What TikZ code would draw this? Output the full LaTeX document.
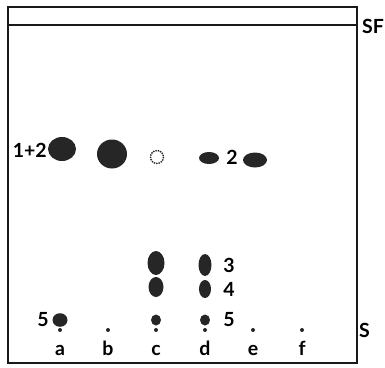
\documentclass[tikz,border=0pt]{standalone}
\usepackage{fontspec}
\setmainfont{Lato}
\usetikzlibrary{positioning}
\tikzset{
  plate/.style={draw=black!90, line width=2.8pt},
  front/.style={draw=black!90, line width=2.2pt},
  spot/.style={fill=black!85},
  origin/.style={fill=black!85},
  faint/.style={draw=black!85, densely dotted, line width=1.4pt},
  lbl/.style={font=\fontsize{19.5}{22}\selectfont\bfseries, inner sep=0pt},
}
\begin{document}
\begin{tikzpicture}[x=1pt,y=-1pt]
  \useasboundingbox (0,0) rectangle (385,367);
  % plate and solvent front
  \draw[plate] (8,7) rectangle (357,363);
  \draw[front] (8,25) -- (357,25);
  \node[lbl, anchor=west] (sf) at (362,26) {SF};
  \node[lbl, anchor=west] (start) at (359,330) {S};
  % lanes: start dots and letters
  \foreach \x/\nm in {60/a,108/b,156/c,205/d,253/e,302/f} {
    \fill[origin] (\x,330) circle (2);
    \node[lbl, anchor=base] (lane-\nm) at (\x,355) {\nm};
  }
  % upper row
  \fill[spot] (62,149) ellipse (14 and 12);
  \node[lbl, anchor=east] (l12) at (47,150) {1+2};
  \fill[spot] (112,154) ellipse (15 and 14.5);
  \draw[faint] (157,157) circle (6.5);
  \fill[spot] (209,158) ellipse (10 and 6);
  \node[lbl] (l2) at (232,157) {2};
  \fill[spot] (255,160) ellipse (12 and 7.5);
  % lower spots
  \fill[spot] (156,263) ellipse (8.5 and 12);
  \fill[spot] (205,265) ellipse (6.5 and 11);
  \fill[spot] (156,287) ellipse (7.5 and 10);
  \fill[spot] (205,289) ellipse (6 and 9);
  \fill[spot] (60,320) ellipse (7.5 and 6.8);
  \fill[spot] (156,320) ellipse (5 and 5.5);
  \fill[spot] (205,320) ellipse (5 and 5.5);
  \node[lbl] (l3) at (229,265) {3};
  \node[lbl] (l4) at (229,289) {4};
  \node[lbl] (l5d) at (229,320) {5};
  \node[lbl, anchor=east] (l5a) at (49,320) {5};
\end{tikzpicture}
\end{document}
